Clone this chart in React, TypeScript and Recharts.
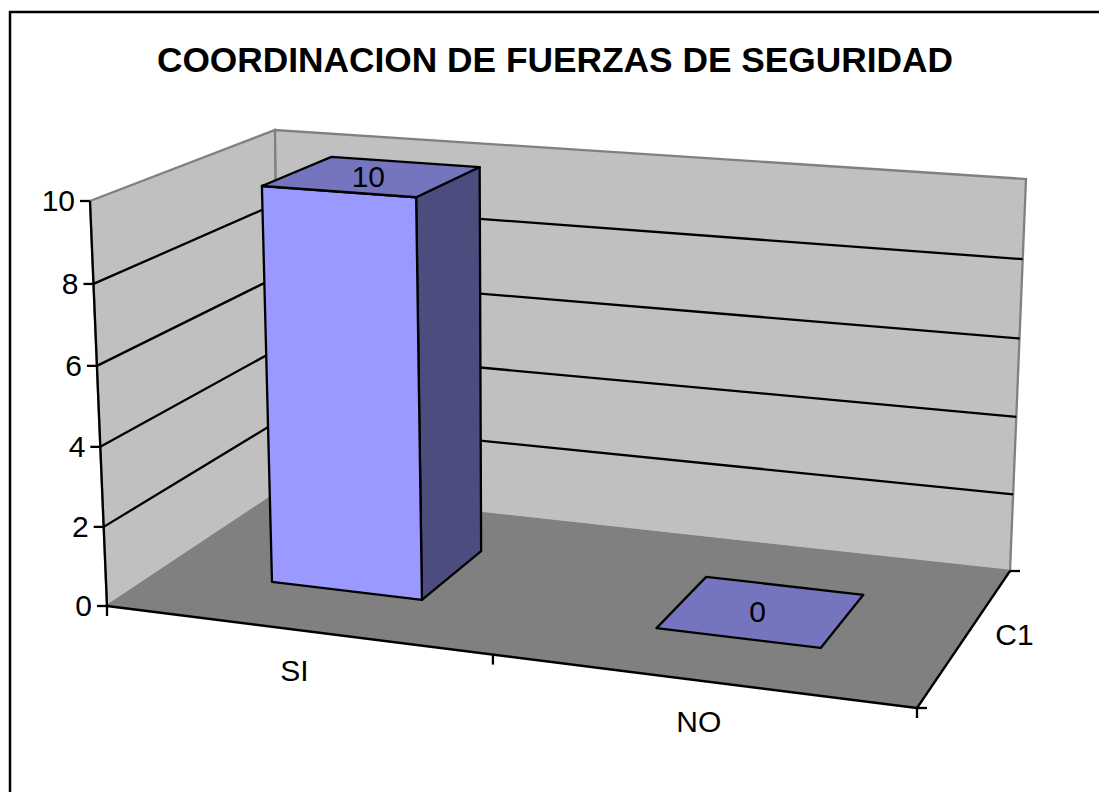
import { Bar, BarChart, CartesianGrid, Customized, XAxis, YAxis } from "recharts";

const CATEGORIES = ["SI", "NO"];
const VALUES = [10, 0];
const Y_TICKS = [0, 2, 4, 6, 8, 10];
const SERIES_NAMES = ["C1"];
const TITLE = "COORDINACION DE FUERZAS DE SEGURIDAD";

const data = CATEGORIES.map((name, i) => ({ name, value: VALUES[i] }));

const W = 1099;
const H = 792;
const AXIS_SIZE = 1; // an axis of size 0 does not render its ticks
const FONT = "'Liberation Sans', Arial, sans-serif";
const TICK_SIZE = 30;
const LINE = 2.3;

// the bar sits in the middle 40% of the depth axis, like the 150% gap depth in Excel
const BAR_DEPTH = [0.3, 0.7];

// Where the corners of the 3D box fall on the page. u = category axis, w = depth, v = value
const FRONT_LEFT = [107, 606];
const FRONT_RIGHT = [917, 708];
const BACK_LEFT = [280, 491];
const BACK_RIGHT = [1010, 571];
const TOP_FRONT_LEFT = [90, 201];
const TOP_BACK_LEFT = [275, 130];
const TOP_BACK_RIGHT = [1026, 179];

function det(a: number[], b: number[]) {
  return a[0] * b[1] - a[1] * b[0];
}

function buildProjection() {
  const [p0, p1, p2, p3] = [FRONT_LEFT, FRONT_RIGHT, BACK_LEFT, BACK_RIGHT];
  const d1 = [p1[0] - p3[0], p1[1] - p3[1]];
  const d2 = [p2[0] - p3[0], p2[1] - p3[1]];
  const s = [p0[0] - p1[0] + p3[0] - p2[0], p0[1] - p1[1] + p3[1] - p2[1]];
  const g = det(s, d2) / det(d1, d2);
  const h = det(d1, s) / det(d1, d2);
  const i = -0.029;
  const raw = (u: number, w: number, v: number) => {
    const den = 1 + g * u + h * w + i * v;
    return [0, 1].map((k) => {
      const a = p1[k] * (1 + g) - p0[k];
      const b = p2[k] * (1 + h) - p0[k];
      const c = TOP_FRONT_LEFT[k] * (1 + i) - p0[k];
      return (a * u + b * w + c * v + p0[k]) / den;
    });
  };
  // the picture is not a perfect projection, so push the two far top corners into place
  const topL = raw(0, 1, 1);
  const topR = raw(1, 1, 1);
  const fixL = [TOP_BACK_LEFT[0] - topL[0], TOP_BACK_LEFT[1] - topL[1]];
  const fixR = [TOP_BACK_RIGHT[0] - topR[0], TOP_BACK_RIGHT[1] - topR[1]];
  return (u: number, w: number, v: number) => {
    const p = raw(u, w, v);
    return [0, 1].map((k) => p[k] + v * w * (fixL[k] + u * (fixR[k] - fixL[k])));
  };
}

const project = buildProjection();

// flat chart pixels -> box fractions
const toU = (x: number) => (x - AXIS_SIZE) / (W - AXIS_SIZE);
const toV = (y: number) => 1 - y / (H - AXIS_SIZE);

function pts(list: number[][]) {
  return list.map((p) => `${p[0]},${p[1]}`).join(" ");
}

function Seg({ a, b, color = "#000", width = LINE }: { a: number[]; b: number[]; color?: string; width?: number }) {
  return <line x1={a[0]} y1={a[1]} x2={b[0]} y2={b[1]} stroke={color} strokeWidth={width} />;
}

function Walls() {
  const f00 = project(0, 0, 0);
  const f10 = project(1, 0, 0);
  const f01 = project(0, 1, 0);
  const f11 = project(1, 1, 0);
  const t00 = project(0, 0, 1);
  const t01 = project(0, 1, 1);
  const t11 = project(1, 1, 1);
  const mid = project(0.5, 0, 0);
  return (
    <g>
      <rect x={10} y={12} width={W} height={H} fill="#fff" stroke="#000" strokeWidth={2.5} />
      <text x={555} y={72} textAnchor="middle" fontFamily={FONT} fontWeight="bold" fontSize={35.3} fill="#000">
        {TITLE}
      </text>
      <polygon points={pts([f00, t00, t01, f01])} fill="#c0c0c0" stroke="#808080" strokeWidth={2.3} />
      <polygon points={pts([f01, t01, t11, f11])} fill="#c0c0c0" stroke="#808080" strokeWidth={2.3} />
      <polygon points={pts([f00, f10, f11, f01])} fill="#808080" stroke="#808080" strokeWidth={1} />
      <Seg a={f00} b={t00} />
      <Seg a={f00} b={f10} />
      <Seg a={f10} b={f11} />
      {[f00, mid, f10].map((p, i) => (
        <Seg key={i} a={p} b={[p[0], p[1] + 10]} />
      ))}
      {[f10, f11].map((p, i) => (
        <Seg key={i} a={p} b={[p[0] + 10, p[1]]} />
      ))}
      {SERIES_NAMES.map((s) => {
        const p = project(1, 0.5, 0);
        return (
          <text key={s} x={p[0] + 48} y={p[1] + 10} textAnchor="middle" fontFamily={FONT} fontSize={TICK_SIZE} fill="#000">
            {s}
          </text>
        );
      })}
    </g>
  );
}

// grid lines run along the left wall, then along the back wall
function WallLine(props: any) {
  const v = toV(props.y1);
  if (v < 0.01 || v > 0.99) return <g key={props.key} />;
  return (
    <polyline
      key={props.key}
      points={pts([project(0, 0, v), project(0, 1, v), project(1, 1, v)])}
      fill="none"
      stroke="#000"
      strokeWidth={LINE}
    />
  );
}

function CategoryTick({ x, payload }: any) {
  const p = project(toU(x), 0, 0);
  return (
    <text x={p[0] - 1} y={p[1] + 51} textAnchor="middle" fontFamily={FONT} fontSize={TICK_SIZE} fill="#000">
      {payload.value}
    </text>
  );
}

function ValueTick({ y, payload }: any) {
  const p = project(0, 0, toV(y));
  return (
    <g>
      <Seg a={[p[0] - 10, p[1]]} b={p} />
      <text x={p[0] - 15} y={p[1] + 10} textAnchor="end" fontFamily={FONT} fontSize={TICK_SIZE} fill="#000">
        {payload.value}
      </text>
    </g>
  );
}

function Bar3D({ x, y, width, height, payload }: any) {
  const u1 = toU(x);
  const u2 = toU(x + width);
  const v = toV(y);
  const v0 = toV(y + height);
  const [w1, w2] = BAR_DEPTH;
  const label = project((u1 + u2) / 2, (w1 + w2) / 2, v);
  const edge = { stroke: "#000", strokeWidth: LINE, strokeLinejoin: "round" as const };
  return (
    <g>
      {v > v0 && (
        <>
          <polygon points={pts([project(u2, w1, v0), project(u2, w2, v0), project(u2, w2, v), project(u2, w1, v)])} fill="#4c4c7f" {...edge} />
          <polygon points={pts([project(u1, w1, v0), project(u2, w1, v0), project(u2, w1, v), project(u1, w1, v)])} fill="#9999ff" {...edge} />
        </>
      )}
      <polygon points={pts([project(u1, w1, v), project(u2, w1, v), project(u2, w2, v), project(u1, w2, v)])} fill="#7575bf" {...edge} />
      <text x={label[0] - 4} y={label[1] + 11} textAnchor="middle" fontFamily={FONT} fontSize={TICK_SIZE} fill="#000">
        {payload.value}
      </text>
    </g>
  );
}

export default function App() {
  const gridProps: any = { zIndex: 1 };
  return (
    <div style={{ position: "absolute", left: 0, top: 0, width: W, height: H, background: "#fff" }}>
      <BarChart width={W} height={H} data={data} margin={{ top: 0, right: 0, bottom: 0, left: 0 }} barCategoryGap="30%">
        <Customized component={Walls} />
        <CartesianGrid vertical={false} horizontal={WallLine} {...gridProps} />
        <XAxis dataKey="name" height={AXIS_SIZE} axisLine={false} tickLine={false} tick={CategoryTick} interval={0} />
        <YAxis width={AXIS_SIZE} domain={[0, 10]} ticks={Y_TICKS} axisLine={false} tickLine={false} tick={ValueTick} interval={0} />
        <Bar dataKey="value" isAnimationActive={false} shape={Bar3D} />
      </BarChart>
    </div>
  );
}
